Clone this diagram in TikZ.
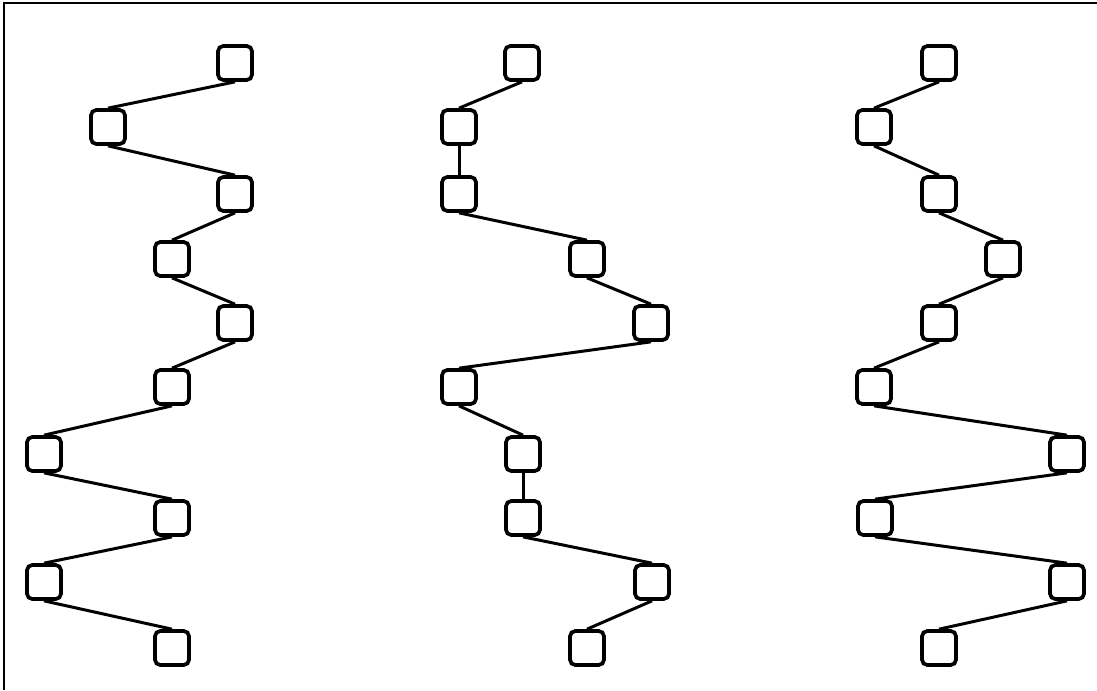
\documentclass[tikz,border=0pt]{standalone}
\usetikzlibrary{positioning}
\tikzset{cell/.style={draw, line width=2.1pt, rounded corners=3pt, minimum size=6.8mm, inner sep=0pt}, link/.style={line width=1.7pt}, frame/.style={line width=1.2pt}}
\begin{document}
\begin{tikzpicture}[x=0.02cm, y=-0.02cm]
\useasboundingbox (0,0) rectangle (1097,690);
\draw[frame] (4,690) |- (1097,3);
% three chains of ten cells, one row per y value
\foreach \y/\p/\q/\r [count=\i] in {63/235/522/939, 127/108/459/874, 194/235/459/939, 259/172/587/1003, 323/235/651/939, 387/172/459/874, 454/44/523/1067, 518/172/523/875, 582/44/652/1067, 648/172/587/939}
  {\node[cell] (a\i) at (\p,\y) {}; \node[cell] (b\i) at (\q,\y) {}; \node[cell] (c\i) at (\r,\y) {};}
\foreach \i [evaluate=\i as \j using int(\i+1)] in {1,...,9}
  {\draw[link] (a\i.south) -- (a\j.north); \draw[link] (b\i.south) -- (b\j.north); \draw[link] (c\i.south) -- (c\j.north);}
\end{tikzpicture}
\end{document}
